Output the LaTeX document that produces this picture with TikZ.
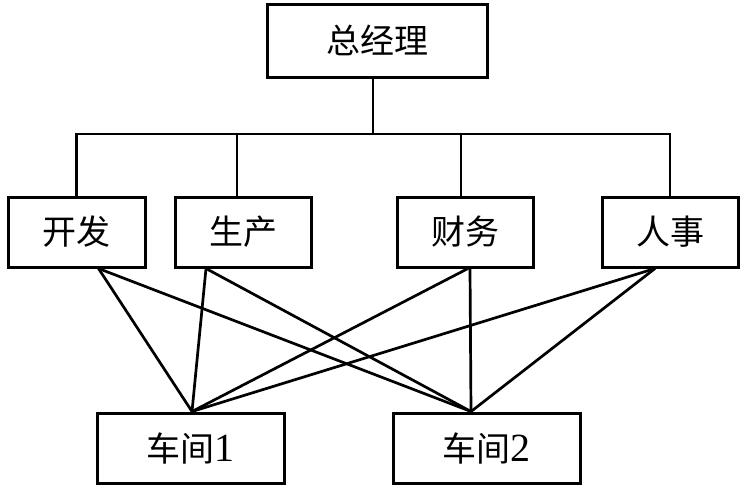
\documentclass[tikz,border=0pt]{standalone}
\usepackage{fontspec}
\setmainfont{Liberation Serif}
\newfontfamily\cjk{Noto Sans CJK SC}
\newcommand{\num}[1]{{\rmfamily\fontsize{40}{40}\selectfont #1}}
\tikzset{
  box/.style={draw, line width=3pt, inner sep=0pt, font=\cjk\fontsize{34}{34}\selectfont},
  link/.style={line width=2.7pt}
}
\begin{document}
\begin{tikzpicture}[x=1pt,y=1pt]
\useasboundingbox (0,0) rectangle (746,-488);
\node[box, minimum width=220pt, minimum height=73pt] (zjl) at (377,-40.5) {总经理};
\node[box, minimum width=137pt, minimum height=70pt] (kf) at (76.5,-232) {开发};
\node[box, minimum width=136pt, minimum height=70pt] (sc) at (243,-232) {生产};
\node[box, minimum width=136pt, minimum height=70pt] (cw) at (465,-232) {财务};
\node[box, minimum width=136pt, minimum height=70pt] (rs) at (670,-232) {人事};
\node[box, minimum width=187pt, minimum height=70pt] (cj1) at (190.5,-448) {车间\num{1}};
\node[box, minimum width=187pt, minimum height=70pt] (cj2) at (486.5,-448) {车间\num{2}};
\coordinate (bus) at (373,-134);

\path[draw,link] ([xshift=-4pt]zjl.south) -- (bus);
\path[draw,link] (kf.north) |- (bus) -| (rs.north);
\path[draw,link] ([xshift=-6pt]sc.north) -- ([xshift=-6pt]sc.north |- bus);
\path[draw,link] ([xshift=-4pt]cw.north) -- ([xshift=-4pt]cw.north |- bus);

\path[draw,link] ([xshift=22pt]kf.south) -- ([xshift=1.5pt]cj1.north);
\path[draw,link] ([xshift=22pt]kf.south) -- ([xshift=-15.5pt]cj2.north);
\path[draw,link] ([xshift=-37pt]sc.south) -- ([xshift=1.5pt]cj1.north);
\path[draw,link] ([xshift=-37pt]sc.south) -- ([xshift=-15.5pt]cj2.north);
\path[draw,link] ([xshift=3pt]cw.south) -- ([xshift=1.5pt]cj1.north);
\path[draw,link] ([xshift=5pt]cw.south) -- ([xshift=-15.5pt]cj2.north);
\path[draw,link] ([xshift=-15pt]rs.south) -- ([xshift=1.5pt]cj1.north);
\path[draw,link] ([xshift=-15pt]rs.south) -- ([xshift=-15.5pt]cj2.north);
\end{tikzpicture}
\end{document}
